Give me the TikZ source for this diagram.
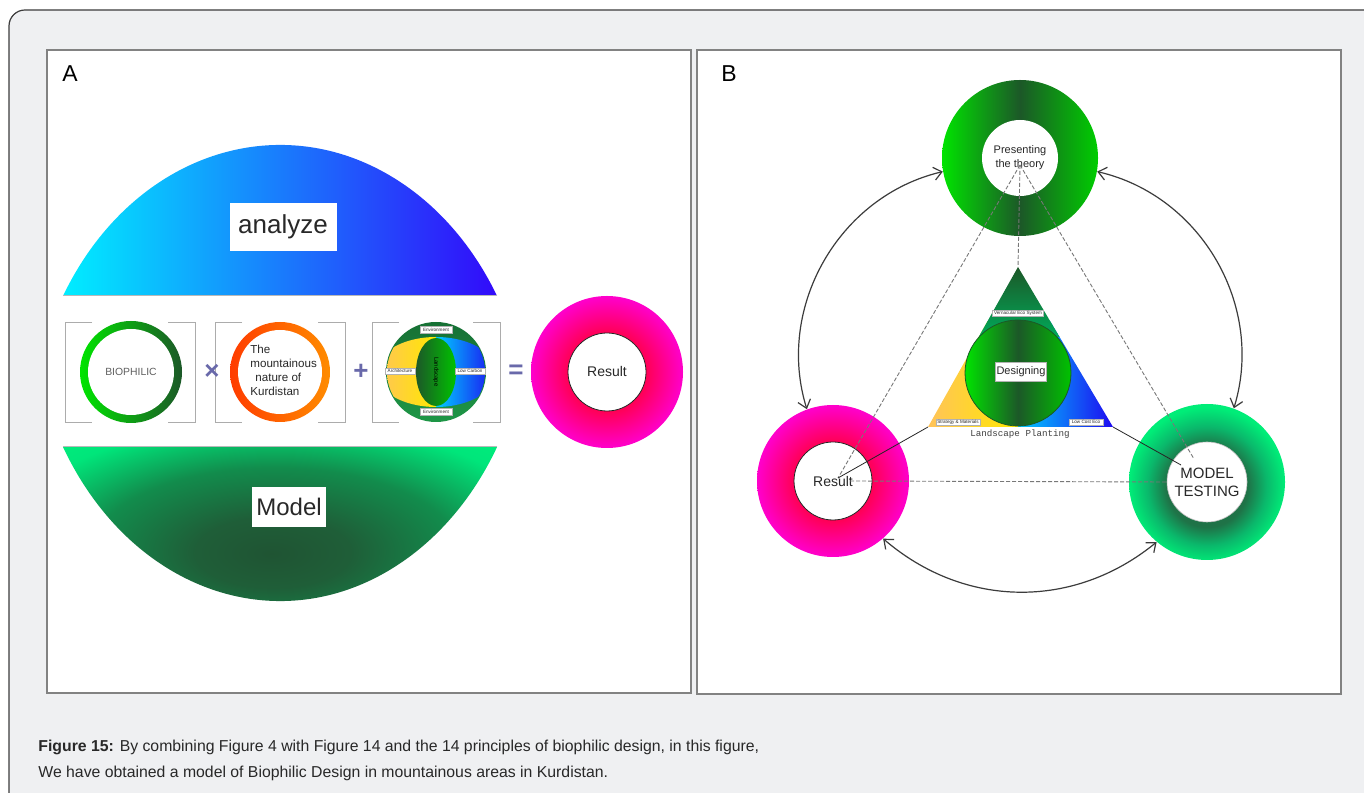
\documentclass[tikz,border=0pt]{standalone}
\usepackage{fontspec}
\setmainfont{Liberation Sans}
\setmonofont{Liberation Mono}
\usetikzlibrary{arrows.meta}

\definecolor{cardbg}{RGB}{239,240,242}
\definecolor{cardline}{RGB}{60,60,60}
\definecolor{panelline}{RGB}{130,130,130}
\definecolor{txtdark}{RGB}{40,40,40}
\definecolor{opblue}{RGB}{105,105,170}
\definecolor{skycyan}{RGB}{0,238,255}
\definecolor{deepblue}{RGB}{50,10,250}
\definecolor{leafbright}{RGB}{0,228,0}
\definecolor{leafdark}{RGB}{28,88,40}
\definecolor{orangered}{RGB}{255,60,0}
\definecolor{orangelight}{RGB}{255,140,0}
\definecolor{sandy}{RGB}{255,195,90}
\definecolor{lemon}{RGB}{255,232,0}
\definecolor{aqua}{RGB}{0,205,255}
\definecolor{royal}{RGB}{30,10,240}
\definecolor{ringgreen}{RGB}{30,150,70}
\definecolor{jade}{RGB}{0,170,90}
\definecolor{arcline}{RGB}{60,60,60}
\definecolor{dashgray}{RGB}{120,120,120}

\pgfdeclareradialshading{resultshade}{\pgfpoint{0bp}{0bp}}{rgb(0bp)=(1,0,0.3); rgb(12.5bp)=(1,0,0.32); rgb(25bp)=(1,0,0.8); rgb(50bp)=(1,0,0.8)}
\pgfdeclareradialshading{testshade}{\pgfpoint{0bp}{-2bp}}{rgb(0bp)=(0.12,0.42,0.26); rgb(13bp)=(0.12,0.45,0.28); rgb(19bp)=(0.04,0.72,0.42); rgb(25bp)=(0,0.93,0.47); rgb(50bp)=(0,0.93,0.47)}
\pgfdeclareradialshading{bowlshade}{\pgfpoint{-1bp}{-2bp}}{rgb(0bp)=(0.12,0.33,0.2); rgb(9bp)=(0.12,0.37,0.22); rgb(21bp)=(0.07,0.55,0.3); rgb(32bp)=(0,0.9,0.48); rgb(50bp)=(0,1,0.5)}

\begin{document}
\begin{tikzpicture}[x=0.5pt, y=0.5pt,
  panel/.style={draw=panelline, line width=1.3pt, fill=white},
  bracket/.style={draw=gray!65, line width=0.45pt},
  ring/.style={circle, inner sep=0pt, draw=none},
  hole/.style={circle, inner sep=0pt, fill=white, text=txtdark, align=center},
  wordbox/.style={fill=white, inner sep=0pt, text=txtdark},
  tag/.style={draw=gray!60, fill=white, inner sep=0.4pt, text=txtdark, font=\fontsize{2.3}{2.5}\selectfont},
  op/.style={text=opblue, font=\bfseries\fontsize{13}{13}\selectfont, inner sep=0pt},
  dashline/.style={draw=dashgray, line width=0.45pt, dash pattern=on 2pt off 1pt},
  thinline/.style={draw=gray!30!black, line width=0.4pt},
  cycarrow/.style={draw=arcline, line width=0.6pt, {Straight Barb[length=4pt,width=6.5pt]}-{Straight Barb[length=4pt,width=6.5pt]}},
  caption/.style={anchor=base west, inner sep=0pt, text=txtdark, font=\fontsize{7.9}{9}\selectfont}
]
\useasboundingbox (0,0) rectangle (1364,792);
\clip (0,0) rectangle (1364,792);
\fill[white] (0,0) rectangle (1364,792);
% card
\fill[cardbg, rounded corners=8pt] (9,-20) rectangle (1390,782);
\draw[cardline, line width=0.6pt, rounded corners=8pt] (9,-20) -- (9,782) -- (1390,782);

% panel A
\draw[panel] (47,99) rectangle (691,742);
\node[font=\fontsize{11.5}{12}\selectfont, inner sep=0pt] (labA) at (70,718) {A};
\shade[left color=skycyan, right color=deepblue] (63,496) arc[start angle=150, end angle=30, x radius=250.6, y radius=302] -- cycle;
\draw[gray!55, line width=0.5pt] (63,496) -- (497,496);
\node[wordbox, minimum width=53.5pt, minimum height=24pt, font=\fontsize{13}{13}\selectfont] (analyze) at (283,565) {analyze};
\shade[shading=bowlshade] (63,345) arc[start angle=210, end angle=330, x radius=250.6, y radius=308] -- cycle;
\draw[gray!55, line width=0.5pt] (63,345) -- (497,345);
\node[wordbox, minimum width=37pt, minimum height=20pt, font=\fontsize{12}{12}\selectfont] (model) at (289,285) {Model};

% brackets
\foreach \xl/\xr in {65/195, 215/345, 372/500} {
  \draw[bracket] (\xl+27,470) -- (\xl,470) -- (\xl,370) -- (\xl+27,370);
  \draw[bracket] (\xr-27,470) -- (\xr,470) -- (\xr,370) -- (\xr-27,370);
}

% biophilic x mountains + landscape = result
\node[ring, minimum size=51pt, left color=leafbright, right color=leafdark] (bioring) at (131,420) {};
\node[hole, minimum size=43pt, font=\fontsize{5.2}{6}\selectfont, text=gray!75!black] (bio) at (bioring) {BIOPHILIC};
\node[op] (times) at (212,420) {×};
\node[ring, minimum size=50pt, left color=orangered, right color=orangelight] (mountring) at (280,420) {};
\node[hole, minimum size=42pt] (mounthole) at (mountring) {};
\node[anchor=west, inner sep=0pt, align=left, text=txtdark, font=\fontsize{5.8}{7}\selectfont] (mount) at (250,422) {The\\mountainous\\\hspace*{2.5pt}nature of\\Kurdistan};
\node[op] (plus) at (361,420) {+};
\node[ring, minimum size=50pt, top color=ringgreen!75!black, bottom color=ringgreen] (landring) at (436,420) {};
\begin{scope}
  \clip (landring.center) circle (49);
  \shade[left color=sandy, right color=lemon] (436,455) arc[start angle=90, end angle=270, x radius=60, y radius=35] -- cycle;
  \shade[left color=aqua, right color=royal] (436,385) arc[start angle=-90, end angle=90, x radius=60, y radius=35] -- cycle;
\end{scope}
\shade[left color=leafdark, right color=leafbright!85!black] (436,420) ellipse [x radius=20, y radius=34];
\node[tag, minimum width=16pt, minimum height=3.5pt] (envtop) at (436,462) {Environment};
\node[tag, minimum width=16pt, minimum height=3.5pt] (envbot) at (436,380) {Environment};
\node[tag, minimum width=15pt, minimum height=3pt] (archi) at (400,421) {Architecture};
\node[tag, minimum width=15pt, minimum height=3pt] (carbon) at (470,421) {Low Carbon};
\node[rotate=-90, inner sep=0pt, text=black, font=\fontsize{3}{3}\selectfont] (lens) at (436,420) {Landscape};
\node[op] (equals) at (516,420) {=};
\node[ring, minimum size=76pt, shade, shading=resultshade] (resAring) at (607,420) {};
\node[hole, draw=gray!30!black, line width=0.4pt, minimum size=39pt, font=\fontsize{7}{8}\selectfont] (resA) at (resAring) {Result};

% panel B
\draw[panel] (697,98) rectangle (1341,742);
\node[font=\fontsize{11.5}{12}\selectfont, inner sep=0pt] (labB) at (729,718) {B};
\node[ring, minimum size=78pt, left color=leafbright, right color=leafbright!90!black, middle color=leafdark] (theoryring) at (1020,634) {};
\node[hole, minimum size=38pt, font=\fontsize{5.5}{7}\selectfont] (theory) at (theoryring) {Presenting\\the theory};
\node[ring, minimum size=76pt, shade, shading=resultshade] (resBring) at (833,311) {};
\node[hole, draw=gray!30!black, line width=0.4pt, minimum size=39pt, font=\fontsize{7}{8}\selectfont] (resB) at (resBring) {Result};
\node[ring, minimum size=78pt, shade, shading=testshade] (testring) at (1207,310) {};
\node[hole, draw=gray!50, line width=0.3pt, minimum size=40pt, font=\fontsize{7.5}{9}\selectfont] (test) at (testring) {MODEL\\TESTING};

% triangle
\coordinate (apex) at (1018,525);
\coordinate (tl) at (928,365);
\coordinate (tr) at (1113,365);
\begin{scope}
  \clip (apex) -- (tl) -- (tr) -- cycle;
  \shade[left color=sandy, right color=lemon] (928,365) rectangle (1018,470);
  \shade[left color=aqua, right color=royal] (1018,365) rectangle (1113,470);
  \shade[top color=leafdark, bottom color=jade] (928,455) rectangle (1113,525);
\end{scope}
\node[tag, minimum width=25.5pt, minimum height=3pt] (eco) at (1018,479) {Vernacular Eco System};
\node[ring, minimum size=53pt, draw=leafdark, line width=0.4pt, left color=leafbright, right color=leafbright!85!black, middle color=leafdark] (designring) at (1018,419) {};
\node[tag, minimum width=25.5pt, minimum height=9.5pt, font=\fontsize{5.5}{6}\selectfont] (design) at (1021,420) {Designing};
\node[tag, minimum width=22pt, minimum height=3pt] (strategy) at (958,370) {Strategy \& Materials};
\node[tag, minimum width=17pt, minimum height=3pt] (lowcost) at (1086,370) {Low Cost Eco};
\node[font=\ttfamily\fontsize{4.6}{5}\selectfont, text=gray!50!black, inner sep=0pt] (planting) at (1020,358) {Landscape Planting};

% links
\coordinate (thhub) at (1020,627);
\coordinate (reshub) at (838,314);
\coordinate (restail) at (850,311);
\coordinate (testhub) at (1194,333);
\coordinate (testmark) at (1181,327);
\draw[dashline] (thhub) -- (apex);
\draw[dashline] (thhub) -- (reshub);
\draw[dashline] (thhub) -- (testhub);
\draw[dashline] (restail) -- (test.west);
\draw[thinline] (tl) -- (reshub);
\draw[thinline] (tr) -- (testmark);
\draw[cycarrow] (resBring.110) to[bend left=47] (theoryring.190);
\draw[cycarrow] (theoryring.-10) to[bend left=47] (testring.70);
\draw[cycarrow] (resBring.-49) to[bend right=40] (testring.-130);

% caption
\node[caption] (capA) at (38,40) {\textbf{Figure 15:} By combining Figure 4 with Figure 14 and the 14 principles of biophilic design, in this figure,};
\node[caption] (capB) at (38,15) {We have obtained a model of Biophilic Design in mountainous areas in Kurdistan.};
\end{tikzpicture}
\end{document}
